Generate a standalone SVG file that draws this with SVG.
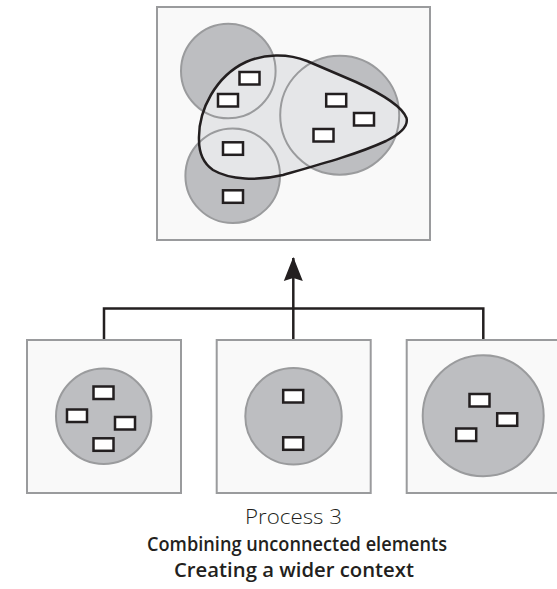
<svg xmlns="http://www.w3.org/2000/svg" width="557" height="589" viewBox="0 0 557 589">
<style>
.frame{fill:#f9f9f9;stroke:#9a9b9d;stroke-width:2}
.cfill{fill:#bdbec1;stroke:none}
.cline{fill:none;stroke:#9a9b9d;stroke-width:2}
.cell{fill:#bdbec1;stroke:#9a9b9d;stroke-width:2}
.item{fill:#ffffff;stroke:#231f20;stroke-width:2.5}
.blob-fill{fill:#e5e6e8;stroke:none}
.blob-line{fill:none;stroke:#231f20;stroke-width:2.5}
.conn{fill:none;stroke:#231f20;stroke-width:2.5}
.t1{font-family:"Open Sans",Lato,sans-serif;font-weight:300;font-size:21px;fill:#231f20}
.t2{font-family:"Open Sans",Lato,sans-serif;font-weight:600;font-size:20px;fill:#231f20}
</style>
<defs>
<marker id="arrow" markerUnits="userSpaceOnUse" markerWidth="24" markerHeight="20" refX="23" refY="10" orient="auto" viewBox="0 0 24 20">
<path d="M24,10 L0,0.5 L3,10 L0,19.5 Z" fill="#231f20"/>
</marker>
</defs>
<g id="combined">
<rect class="frame" x="157" y="7" width="273" height="233"/>
<circle class="cfill" cx="228.3" cy="71" r="47.3"/>
<circle class="cfill" cx="232.7" cy="175.7" r="47.3"/>
<circle class="cfill" cx="339.7" cy="115.2" r="59.5"/>
<path class="blob-fill" d="M199,140 C198,110 216,76 246,62 C264,54 287,53 307,61 L356,82 C382,94 402,106 406.5,118 C408.5,126 400,134 386,141 C358,154 318,165 283,175 C258,181 230,180 213,170 C203,163 199,152 199,140 Z"/>
<circle class="cline" cx="228.3" cy="71" r="47.3"/>
<circle class="cline" cx="232.7" cy="175.7" r="47.3"/>
<circle class="cline" cx="339.7" cy="115.2" r="59.5"/>
<path class="blob-line" d="M199,140 C198,110 216,76 246,62 C264,54 287,53 307,61 L356,82 C382,94 402,106 406.5,118 C408.5,126 400,134 386,141 C358,154 318,165 283,175 C258,181 230,180 213,170 C203,163 199,152 199,140 Z"/>
<rect class="item" x="239.5" y="72" width="20" height="12.5"/>
<rect class="item" x="218" y="94" width="20" height="12.5"/>
<rect class="item" x="326.2" y="94" width="20" height="12.5"/>
<rect class="item" x="354" y="113" width="20" height="12.5"/>
<rect class="item" x="313.5" y="129" width="20" height="12.5"/>
<rect class="item" x="223" y="142.3" width="20" height="12.5"/>
<rect class="item" x="223" y="190.3" width="20" height="12.5"/>
</g>
<g id="group-left">
<rect class="frame" x="27" y="340" width="154" height="153"/>
<circle class="cell" cx="103.7" cy="416.3" r="47.7"/>
<rect class="item" x="93.5" y="386.5" width="20" height="12.5"/>
<rect class="item" x="67" y="409.5" width="20" height="12.5"/>
<rect class="item" x="115" y="417" width="20" height="12.5"/>
<rect class="item" x="93.5" y="438.3" width="20" height="12.5"/>
</g>
<g id="group-middle">
<rect class="frame" x="216.7" y="340" width="154" height="153"/>
<circle class="cell" cx="293.5" cy="416.3" r="48.2"/>
<rect class="item" x="283.2" y="390" width="20" height="12.5"/>
<rect class="item" x="283.2" y="437.3" width="20" height="12.5"/>
</g>
<g id="group-right">
<rect class="frame" x="406.7" y="340" width="154" height="153"/>
<circle class="cell" cx="483.2" cy="415.7" r="60.5"/>
<rect class="item" x="469.5" y="394" width="20" height="12.5"/>
<rect class="item" x="497.2" y="413.3" width="20" height="12.5"/>
<rect class="item" x="456.2" y="428.5" width="20" height="12.5"/>
</g>
<g id="connectors">
<path class="conn" d="M104,339 V308.5 H483.3 V339"/>
<path class="conn" d="M293.3,339 V258" marker-end="url(#arrow)"/>
</g>
<g id="caption">
<text class="t1" x="293.5" y="524" text-anchor="middle" textLength="97" lengthAdjust="spacingAndGlyphs">Process 3</text>
<text class="t2" x="297" y="551" text-anchor="middle" textLength="300" lengthAdjust="spacingAndGlyphs">Combining unconnected elements</text>
<text class="t2" x="294" y="577" text-anchor="middle" textLength="240" lengthAdjust="spacingAndGlyphs">Creating a wider context</text>
</g>
</svg>
